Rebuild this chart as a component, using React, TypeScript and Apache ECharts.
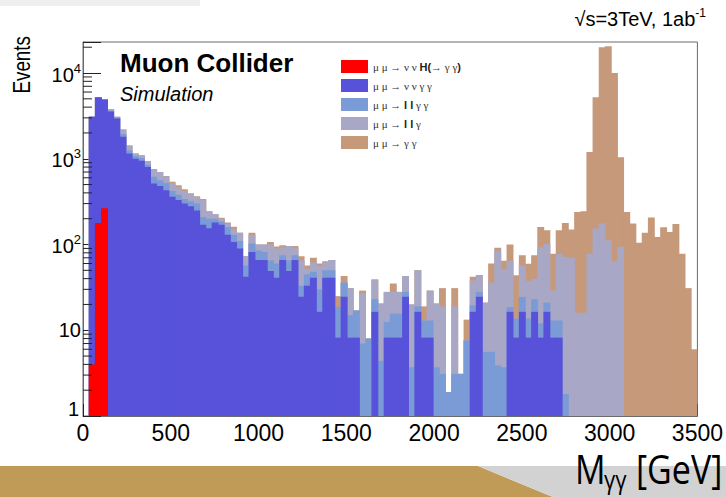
import React, { useEffect, useRef } from 'react';
import * as echarts from 'echarts';

// Bin centres (GeV), 100 bins of 35 GeV from 0 to 3500
const binCenters: string[] = Array.from({ length: 100 }, (_, i) => String(i * 35 + 17.5));

const nameH = 'μ μ → ν ν H(→ γ γ)';
const nameVVGG = 'μ μ → ν ν γ γ';
const nameLLGG = 'μ μ → l l γ γ';
const nameLLG = 'μ μ → l l γ';
const nameGG = 'μ μ → γ γ';

// Events per bin, each process (stack order bottom → top)
const higgs = [
  0, 4, 178, 265, 0, 0, 0, 0, 0, 0,
  0, 0, 0, 0, 0, 0, 0, 0, 0, 0,
  0, 0, 0, 0, 0, 0, 0, 0, 0, 0,
  0, 0, 0, 0, 0, 0, 0, 0, 0, 0,
  0, 0, 0, 0, 0, 0, 0, 0, 0, 0,
  0, 0, 0, 0, 0, 0, 0, 0, 0, 0,
  0, 0, 0, 0, 0, 0, 0, 0, 0, 0,
  0, 0, 0, 0, 0, 0, 0, 0, 0, 0,
  0, 0, 0, 0, 0, 0, 0, 0, 0, 0,
  0, 0, 0, 0, 0, 0, 0, 0, 0, 0,
];
const vvgg = [
  0, 3096, 5022, 4635, 3550, 2950, 1800, 1150, 1000, 950,
  800, 515, 480, 430, 360, 330, 300, 280, 250, 170,
  155, 180, 170, 130, 107, 90, 42, 82, 66, 66,
  49, 41, 66, 49, 66, 24.6, 33, 41, 16.4, 41,
  41, 8.2, 24.6, 8.2, 8.2, 0, 0, 16.4, 0, 8.2,
  8.2, 8.2, 24.6, 0, 16.4, 8.2, 8.2, 0, 0, 0,
  0, 0, 0, 16.4, 24.6, 0, 0, 0, 0, 16.4,
  8.2, 16.4, 8.2, 16.4, 8.2, 16.4, 8.2, 8.2, 0, 0,
  0, 0, 0, 0, 0, 0, 0, 0, 0, 0,
  0, 0, 0, 0, 0, 0, 0, 0, 0, 0,
];
const llgg = [
  0, 0, 0, 0, 100, 70, 150, 100, 80, 70,
  50, 100, 80, 90, 60, 50, 40, 40, 50, 40,
  45, 20, 15, 30, 23, 20, 15, 21, 19, 16,
  16, 19, 9, 16, 9, 8.4, 12, 7, 13.6, 9,
  9, 10.5, 11.4, 6.8, 8.8, 7, 8, 6.6, 4.4, 4.3,
  7.4, 7.4, 3.4, 3.7, 2.6, 4.8, 4.8, 3.7, 3.1, 1.9,
  3.1, 3.1, 7.6, 3.1, 3.4, 5.6, 5.6, 3.9, 3.7, 2.3,
  5.5, 8.1, 5.5, 6.6, 3.8, 4.6, 4.8, 4.8, 1.8, 0,
  0, 0, 0, 0, 0, 0, 0, 0, 0, 0,
  0, 0, 0, 0, 0, 0, 0, 0, 0, 0,
];
const llg = [
  0, 0, 0, 0, 120, 80, 250, 180, 70, 80,
  90, 145, 140, 100, 100, 90, 80, 65, 60, 120,
  45, 25, 15, 15, 20, 27, 16, 27, 15, 18,
  35, 30, 17, 31, 17, 32, 7, 14, 26, 12,
  16, 0, 0, 16, 0, 20, 0, 16, 16.1, 15.5,
  12.4, 12.4, 15, 16.3, 31, 0, 16, 16.8, 15.9, 0,
  15.9, 0, 0, 18.5, 16, 15.4, 30.4, 81, 48, 46,
  0, 32.5, 24, 17, 81, 81, 16, 65, 70, 70,
  16, 16, 78, 154, 176, 112, 64, 94, 0, 0,
  0, 0, 0, 0, 0, 0, 0, 0, 0, 0,
];
const gg = [
  0, 0, 0, 0, 0, 0, 0, 0, 0, 0,
  0, 0, 0, 10, 20, 20, 20, 10, 5, 10,
  0, 0, 5, 5, 11, 0, 0, 7, 0, 0,
  7, 5, 6, 0, 4, 8, 5, 8, 4, 2,
  0, 6.3, 7, 0, 0, 2, 0, 0, 0, 0,
  7, 0, 0, 0, 0, 6, 0, 0, 12, 0,
  12, 0, 5.7, 4, 0, 0, 24, 7, 13, 35,
  30, 18, 22, 35, 67, 45, 49, 69, 106, 80,
  224, 229, 1122, 5046, 19824, 20388, 9936, 946, 240, 176,
  105, 137, 206, 122, 159, 140, 174, 78, 31, 6,
];

const xTicks = [0, 500, 1000, 1500, 2000, 2500, 3000, 3500];
const yMinorTicks = [
  2, 3, 4, 5, 6, 7, 8, 9,
  20, 30, 40, 50, 60, 70, 80, 90,
  200, 300, 400, 500, 600, 700, 800, 900,
  2000, 3000, 4000, 5000, 6000, 7000, 8000, 9000,
  20000,
];

const colors = {
  higgs: '#ff0000',
  vvgg: '#5752d9',
  llgg: '#7b9bd6',
  llg: '#a9a7c6',
  gg: '#c6997a',
};

export default function App() {
  const ref = useRef<HTMLDivElement>(null);

  useEffect(() => {
    if (!ref.current) return;
    const chart = echarts.init(ref.current, undefined, { renderer: 'svg' });

    const layers = [
      { name: nameH, data: higgs, color: colors.higgs },
      { name: nameVVGG, data: vvgg, color: colors.vvgg },
      { name: nameLLGG, data: llgg, color: colors.llgg },
      { name: nameLLG, data: llg, color: colors.llg },
      { name: nameGG, data: gg, color: colors.gg },
    ];
    // cumulative stacks
    const cum: number[][] = [];
    layers.forEach((l, k) => {
      cum.push(l.data.map((v, i) => v + (k > 0 ? cum[k - 1][i] : 0)));
    });
    const barSeries = layers
      .map((l, k) => ({
        name: l.name,
        type: 'bar',
        xAxisIndex: 0,
        yAxisIndex: 0,
        barWidth: 6.9,
        barGap: '-100%',
        itemStyle: { color: l.color },
        data: cum[k].map((v) => (v > 0 ? v : '-')),
        z: 2,
      }))
      .reverse();

    const option: any = {
      animation: false,
      backgroundColor: '#ffffff',
      grid: {
        left: 83,
        top: 42,
        width: 618,
        height: 374,
        show: true,
        borderColor: '#6a6a6a',
        borderWidth: 1,
        backgroundColor: 'transparent',
      },
      legend: {
        data: [nameH, nameVVGG, nameLLGG, nameLLG, nameGG],
        orient: 'vertical',
        left: 336,
        top: 55,
        icon: 'rect',
        itemWidth: 27,
        itemHeight: 13,
        itemGap: 6,
        selectedMode: false,
        textStyle: {
          fontFamily: 'Liberation Serif',
          fontSize: 11,
          color: '#333',
          rich: {
            h: { fontFamily: 'Liberation Sans', fontWeight: 'bold', fontSize: 11, color: '#222' },
          },
        },
        formatter: (n: string) => {
          if (n === nameH) return 'μ μ → ν ν {h|H(}→ γ γ{h|)}';
          if (n === nameLLGG) return 'μ μ → {h|l l} γ γ';
          if (n === nameLLG) return 'μ μ → {h|l l} γ';
          return n;
        },
      },
      xAxis: [
        {
          type: 'category',
          data: binCenters,
          show: false,
          boundaryGap: true,
        },
        {
          type: 'value',
          min: xTicks[0],
          max: xTicks[xTicks.length - 1],
          interval: 500,
          position: 'bottom',
          axisLine: { show: true, lineStyle: { color: '#6a6a6a' } },
          axisTick: { show: true, inside: true, length: 12, lineStyle: { color: '#222' } },
          minorTick: { show: true, splitNumber: 5, length: 6, lineStyle: { color: '#222' } },
          splitLine: { show: false },
          axisLabel: {
            fontFamily: 'Liberation Sans',
            fontSize: 23,
            color: '#000',
            margin: 5,
            formatter: (v: number) => String(v),
          },
        },
      ],
      yAxis: {
        type: 'log',
        logBase: 10,
        min: 1,
        max: 23000,
        axisLine: { show: true, lineStyle: { color: '#6a6a6a' } },
        axisTick: { show: true, inside: true, length: 18, lineStyle: { color: '#222' } },
        splitLine: { show: false },
        axisLabel: {
          margin: 2,
          fontFamily: 'Liberation Sans',
          fontSize: 20,
          color: '#000',
          formatter: (v: number) => {
            const l = Math.log10(v);
            const e = Math.round(l);
            if (Math.abs(l - e) > 1e-6) return '';
            if (e === 0) return '{o|1}';
            if (e === 1) return '10';
            return `{b|10}{s|${e}}`;
          },
          rich: {
            o: { fontFamily: 'Liberation Sans', fontSize: 20, color: '#000', padding: [0, 2, 14, 0] },
            b: { fontFamily: 'Liberation Sans', fontSize: 20, color: '#000', verticalAlign: 'bottom' },
            s: { fontFamily: 'Liberation Sans', fontSize: 13, color: '#000', verticalAlign: 'bottom', padding: [0, 0, 10, 0] },
          },
        },
      },
      series: [
        ...barSeries,
        {
          type: 'custom',
          name: 'yminor',
          xAxisIndex: 0,
          yAxisIndex: 0,
          silent: true,
          clip: false,
          z: 5,
          data: yMinorTicks.map((v) => [0, v]),
          encode: { x: 0, y: 1 },
          renderItem: (params: any, api: any) => {
            const cs = params.coordSys;
            const y = api.coord([0, api.value(1)])[1];
            return {
              type: 'line',
              shape: { x1: cs.x, y1: y, x2: cs.x + 9, y2: y },
              style: { stroke: '#222', lineWidth: 1 },
            };
          },
        },
      ],
      graphic: [
        { type: 'rect', left: 0, top: 0, shape: { width: 200, height: 6 }, style: { fill: '#efefef' }, silent: true },
        {
          type: 'polygon',
          shape: { points: [[0, 466], [478, 466], [553, 497], [0, 497]] },
          style: { fill: '#c09b58' },
          silent: true,
        },
        {
          type: 'polygon',
          shape: { points: [[478, 466], [726, 466], [726, 497], [553, 497]] },
          style: { fill: '#d2d2d2' },
          silent: true,
        },
        {
          type: 'text',
          x: 10,
          y: 36,
          rotation: Math.PI / 2,
          scaleX: 0.82,
          style: {
            text: 'Events',
            font: '23px "Liberation Sans"',
            fill: '#000',
            align: 'right',
            verticalAlign: 'top',
          },
        },
        {
          type: 'text',
          x: 120,
          y: 50,
          style: { text: 'Muon Collider', font: 'bold 26px "Liberation Sans"', fill: '#000' },
        },
        {
          type: 'text',
          x: 120,
          y: 84,
          style: { text: 'Simulation', font: 'italic 20px "Liberation Sans"', fill: '#000' },
        },
        {
          type: 'text',
          x: 706,
          y: 7,
          style: {
            text: '{n|√s=3TeV, 1ab}{s|-1}',
            align: 'right',
            rich: {
              n: { fontFamily: 'Liberation Sans', fontSize: 20, fill: '#000', verticalAlign: 'bottom' },
              s: { fontFamily: 'Liberation Sans', fontSize: 12, fill: '#000', verticalAlign: 'bottom', padding: [0, 0, 10, 0] },
            },
          },
        },
        {
          type: 'text',
          x: 575,
          y: 448,
          scaleX: 0.85,
          style: { text: 'M', font: '40px "Open Sans"', fill: '#000' },
        },
        {
          type: 'text',
          x: 604,
          y: 466,
          scaleX: 0.85,
          style: { text: 'γγ', font: '26px "Open Sans"', fill: '#000' },
        },
        {
          type: 'text',
          x: 636,
          y: 448,
          scaleX: 0.85,
          style: { text: '[GeV]', font: '40px "Open Sans"', fill: '#000' },
        },
      ],
    };

    chart.setOption(option);
    return () => chart.dispose();
  }, []);

  return (
    <div
      ref={ref}
      style={{ position: 'absolute', left: 0, top: 0, width: 726, height: 497, background: '#fff' }}
    />
  );
}
